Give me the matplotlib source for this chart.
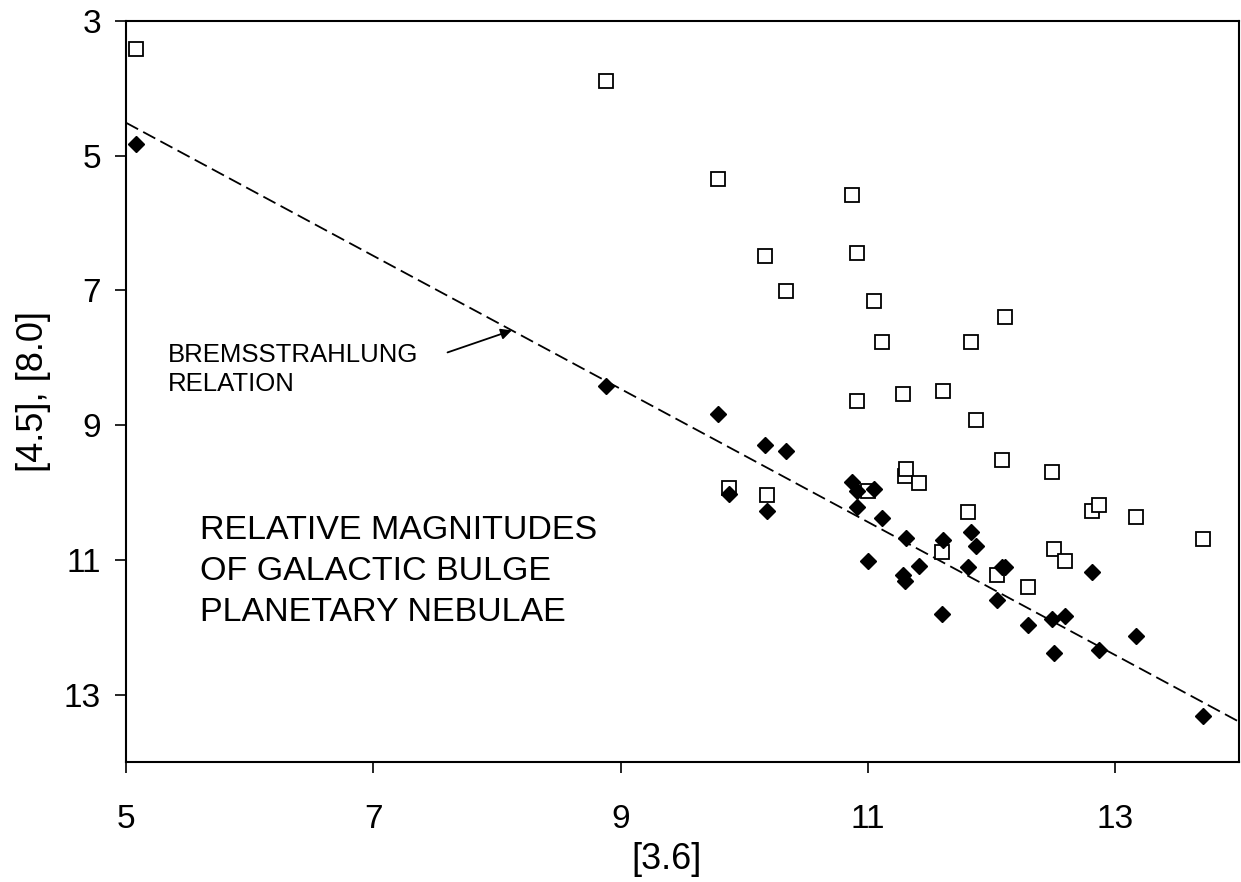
import numpy as np
import matplotlib.pyplot as plt

plt.rcParams['font.family'] = ['Liberation Sans', 'DejaVu Sans']

# [3.6] magnitude of each nebula, with its [8.0] (open squares) and [4.5] (filled diamonds)
mag_36 = [5.08, 8.88, 9.79, 9.88, 10.17, 10.18, 10.34, 10.87, 10.91, 10.91,
          11.00, 11.05, 11.11, 11.28, 11.30, 11.31, 11.41, 11.60, 11.61, 11.81,
          11.83, 11.87, 12.04, 12.08, 12.11, 12.29, 12.49, 12.50, 12.59, 12.81,
          12.87, 13.17, 13.71]
mag_80 = [3.41, 3.89, 5.35, 9.93, 6.49, 10.04, 7.01, 5.59, 6.44, 8.64,
          9.98, 7.16, 7.77, 8.53, 9.76, 9.65, 9.86, 10.88, 8.49, 10.29,
          7.77, 8.93, 11.23, 9.52, 7.39, 11.40, 9.70, 10.84, 11.01, 10.28,
          10.18, 10.37, 10.69]
mag_45 = [4.83, 8.42, 8.84, 10.02, 9.29, 10.27, 9.38, 9.84, 9.97, 10.22,
          11.02, 9.94, 10.38, 11.22, 11.31, 10.67, 11.09, 11.80, 10.71, 11.11,
          10.59, 10.79, 11.59, 11.11, 11.10, 11.97, 11.88, 12.38, 11.84, 11.18,
          12.33, 12.13, 13.31]

# bremsstrahlung relation  y = intercept + slope * x
brems_intercept = -0.43
brems_slope = 0.988
brems_arrow_x = 8.12

xticks = [5, 7, 9, 11, 13]
yticks = [3, 5, 7, 9, 11, 13]

fig = plt.figure(figsize=(12.41, 8.82), dpi=100)
ax = fig.add_axes([126 / 1241, 120 / 882, 1113 / 1241, 741 / 882])

xline = np.array([5.0, 14.0])
ax.plot(xline, brems_intercept + brems_slope * xline, color='black',
        linewidth=1.3, dashes=(7.6, 3.2), zorder=1)

ax.plot(mag_36, mag_80, linestyle='none', marker='s', markersize=10.5,
        markerfacecolor='white', markeredgecolor='black', markeredgewidth=1.3, zorder=2)
ax.plot(mag_36, mag_45, linestyle='none', marker='D', markersize=7.8,
        markerfacecolor='black', markeredgecolor='black', markeredgewidth=1, zorder=3)

ax.set_xlim(5, 14)
ax.set_ylim(14, 3)
ax.set_xticks(xticks)
ax.set_yticks(yticks)
ax.tick_params(axis='both', direction='out', length=8, width=1.2, labelsize=24)
ax.tick_params(axis='x', pad=22)
ax.tick_params(axis='y', pad=10)
for sp in ax.spines.values():
    sp.set_linewidth(1.5)

ax.set_xlabel('[3.6]', fontsize=26, labelpad=5, x=0.486)
ax.set_ylabel('[4.5], [8.0]', fontsize=26, labelpad=9)

tip_y = brems_intercept + brems_slope * brems_arrow_x
ax.annotate('', xy=(brems_arrow_x, tip_y), xytext=(7.6, 7.92),
            arrowprops=dict(arrowstyle='-|>', color='black', lw=1.3,
                            mutation_scale=16, shrinkA=0, shrinkB=0))
ax.text(5.34, 7.78, 'BREMSSTRAHLUNG\nRELATION', fontsize=18.5,
        va='top', ha='left', linespacing=1.24)

ax.text(5.6, 10.34, 'RELATIVE MAGNITUDES\nOF GALACTIC BULGE\nPLANETARY NEBULAE',
        fontsize=24.5, va='top', ha='left', linespacing=1.4)

plt.savefig('out.png', dpi=100, facecolor='white')
plt.close()
